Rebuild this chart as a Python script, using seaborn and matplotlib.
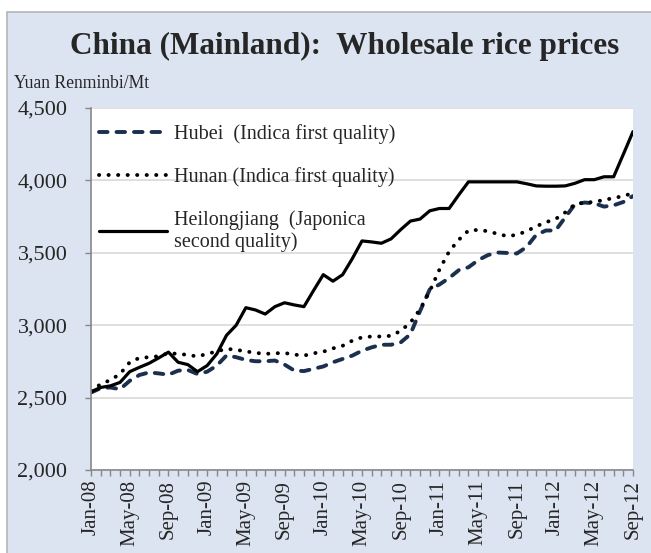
import numpy as np
import pandas as pd
import matplotlib
matplotlib.use("Agg")
import matplotlib.pyplot as plt
import seaborn as sns
from matplotlib.patches import Rectangle
from matplotlib.ticker import FuncFormatter, MultipleLocator

# monthly wholesale prices, Jan-08 .. Sep-12 (Yuan Renminbi/Mt)
months = pd.date_range("2008-01-01", "2012-09-01", freq="MS")

hubei = [2535, 2565, 2570, 2558, 2616, 2656, 2674, 2667, 2658, 2686,
         2691, 2663, 2679, 2721, 2791, 2779, 2760, 2751, 2751, 2756,
         2728, 2687, 2683, 2699, 2715, 2744, 2767, 2790, 2824, 2847,
         2865, 2865, 2881, 2938, 3098, 3247, 3281, 3326, 3380, 3400,
         3449, 3484, 3502, 3499, 3495, 3540, 3624, 3654, 3654, 3745,
         3835, 3847, 3842, 3819, 3828, 3851, 3892]

hunan = [2545, 2593, 2621, 2663, 2744, 2774, 2779, 2786, 2807, 2802,
         2795, 2784, 2802, 2819, 2837, 2830, 2819, 2809, 2802, 2806,
         2808, 2797, 2790, 2806, 2817, 2840, 2858, 2893, 2916, 2922,
         2922, 2927, 2961, 3018, 3110, 3235, 3384, 3509, 3590, 3654,
         3658, 3649, 3631, 3615, 3624, 3649, 3683, 3711, 3733, 3779,
         3835, 3847, 3851, 3865, 3878, 3892, 3912]

heilongjiang = [2540, 2570, 2581, 2605, 2679, 2709, 2737, 2774, 2814, 2744,
                2728, 2679, 2721, 2802, 2930, 3000, 3121, 3105, 3077, 3128,
                3155, 3140, 3128, 3240, 3349, 3304, 3349, 3460, 3582, 3575,
                3566, 3596, 3660, 3719, 3733, 3790, 3806, 3806, 3900, 3990,
                3990, 3990, 3990, 3990, 3990, 3977, 3962, 3960, 3960, 3962,
                3980, 4005, 4005, 4025, 4025, 4180, 4337]

labels = ["Hubei  (Indica first quality)",
          "Hunan (Indica first quality)",
          "Heilongjiang  (Japonica\nsecond quality)"]
tick_labels = [m.strftime("%b-%y") for m in months[::4]]

sns.set_style("white")
plt.rcParams["font.family"] = ["Liberation Serif", "DejaVu Serif"]

fig = plt.figure(figsize=(6.51, 5.53), dpi=100, facecolor="white")
fig.patches.append(Rectangle((7 / 651, -0.1), 1.1, 1.1 - 12 / 553,
                             transform=fig.transFigure, facecolor="#dbe4f0",
                             edgecolor="#b4b4b4", lw=1.2, zorder=-10))

ax = fig.add_axes([91 / 651, 1 - 470 / 553, 542 / 651, 362 / 553])
ax.set_zorder(1)
ax.set_facecolor("white")

x = np.arange(len(months))
sns.lineplot(x=x, y=hubei, ax=ax, color="#1b2f4e", lw=2.8, label=labels[0])
sns.lineplot(x=x, y=hunan, ax=ax, color="black", lw=2.8, label=labels[1])
sns.lineplot(x=x, y=heilongjiang, ax=ax, color="black", lw=2.3, label=labels[2])

lines = ax.get_lines()
lines[0].set_linestyle((0, (2.2, 2.3)))
lines[0].set_dash_capstyle("round")
lines[1].set_linestyle((0, (0.05, 2.4)))
lines[1].set_dash_capstyle("round")

ax.set_xlim(0, len(months) - 1)
ax.set_ylim(2000, 4500)
ax.yaxis.set_major_locator(MultipleLocator(500))
ax.yaxis.set_major_formatter(FuncFormatter(lambda v, p: f"{int(v):,}"))
ax.set_xticks(x[::4])
ax.set_xticklabels(tick_labels, rotation=90, fontsize=15)
ax.set_xticks(x, minor=True)
ax.tick_params(axis="y", labelsize=16, length=4, width=1, color="#888888",
               direction="out", left=True, pad=13)
ax.tick_params(axis="x", which="both", length=4, width=1, color="#888888",
               direction="out", bottom=True, pad=3)
ax.grid(axis="y", color="#d9d9d9", lw=1.2)
ax.set_axisbelow(True)
for s in ["top", "right"]:
    ax.spines[s].set_visible(False)
for s in ["left", "bottom"]:
    ax.spines[s].set_color("#888888")
    ax.spines[s].set_linewidth(1.2)
ax.set_xlabel("")
ax.set_ylabel("")

leg = ax.legend(loc="upper left", bbox_to_anchor=(-0.008, 0.99), frameon=False,
                fontsize=14.5, handlelength=3.4, handletextpad=0.35,
                labelspacing=1.15, borderaxespad=0.2)
for t in leg.get_texts():
    t.set_linespacing(1.15)

fig.text(345 / 651, 1 - 46 / 553, "China (Mainland):  Wholesale rice prices",
         fontsize=22.5, fontweight="bold", ha="center", va="center")
fig.text(14 / 651, 1 - 83 / 553, "Yuan Renminbi/Mt", fontsize=12.7,
         ha="left", va="center")

fig.savefig("out.png", dpi=100, facecolor=fig.get_facecolor())
